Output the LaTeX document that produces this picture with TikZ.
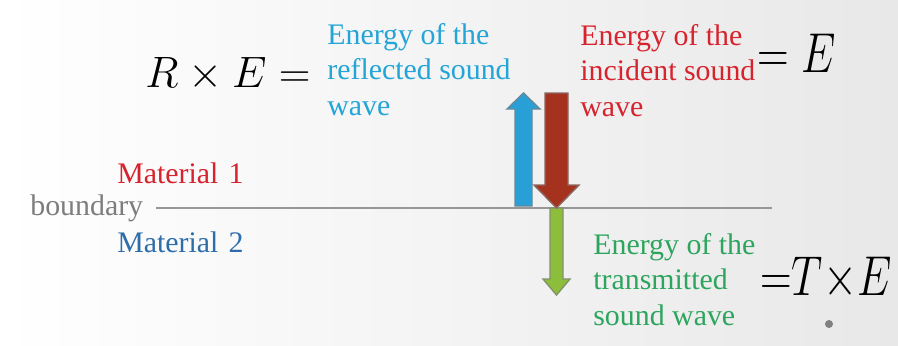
\RequirePackage{fix-cm}
\documentclass[tikz,border=0pt]{standalone}
\usepackage{fontspec}
\setmainfont{Liberation Serif}
\usetikzlibrary{positioning}
\definecolor{reflc}{RGB}{35,165,215}
\definecolor{incc}{RGB}{215,35,45}
\definecolor{transc}{RGB}{45,165,95}
\definecolor{matb}{RGB}{45,110,170}
\definecolor{bndc}{RGB}{125,125,125}
\definecolor{arrblue}{RGB}{40,160,215}
\definecolor{arrred}{RGB}{165,50,30}
\definecolor{arrgreen}{RGB}{140,190,60}
\tikzset{
  lbl/.style={anchor=base west, inner sep=0pt, align=left,
              font=\fontsize{17}{20}\selectfont, text=#1},
  eqn/.style={anchor=base west, inner sep=0pt, font=\fontsize{25}{30}\selectfont},
  tallqn/.style={anchor=base west, inner sep=0pt, font=\fontsize{32}{36}\selectfont},
  blockarr/.style={fill=#1, draw=gray!70!#1, line width=0.8pt, line join=miter},
  bndline/.style={draw=bndc!80, line width=1pt},
}

\begin{document}
\begin{tikzpicture}[x=0.02cm, y=-0.02cm]
    \shade[left color=white, right color=black!9] (0,0) rectangle (898,345);
    \useasboundingbox (0,0) rectangle (898,345);
    % boundary between the two materials
    \node[lbl=bndc] (bnd) at (30,215) {boundary};
    \coordinate (bndR) at (772,207);
    \draw[bndline] ([xshift=0.25cm]bnd.east) -- (bnd.east -| bndR);
    \node[lbl=incc] (mat1) at (117,183) {Material\kern1.5pt{} 1};
    \node[lbl=matb] (mat2) at (117,252) {Material\kern1.5pt{} 2};
    % waves
    \filldraw[blockarr=arrgreen] (550,208) -- (550,279) -- (543,279) -- (556.5,295)
      -- (570,279) -- (563,279) -- (563,208) -- cycle;
    \filldraw[blockarr=arrblue] (515,206) -- (515,109) -- (507,109) -- (523.5,93)
      -- (540,109) -- (532,109) -- (532,206) -- cycle;
    \filldraw[blockarr=arrred] (545,93) -- (545,185) -- (534,185) -- (556.5,208)
      -- (579,185) -- (568,185) -- (568,93) -- cycle;
    % labels (base = last line)
    \node[lbl=reflc] (refl) at (327,115) {Energy of the\\reflected sound\\wave};
    \node[lbl=incc] (inc) at (580,116) {Energy of the\\incident sound\\wave};
    \node[lbl=transc] (trans) at (593,325) {Energy of the\\transmitted\\sound wave};
    \node[eqn] (reqn) at (145,87) {$R\times E=$};
    \node[tallqn] (ieqn) at (757,72) {\scalebox{0.78}[1]{${=}\;E$}};
    \node[tallqn] (teqn) at (760,295) {\scalebox{0.78}[1]{${=}T{\times}E$}};
    \fill[gray] (829,324) circle (0.08cm);
  \end{tikzpicture}
\end{document}
